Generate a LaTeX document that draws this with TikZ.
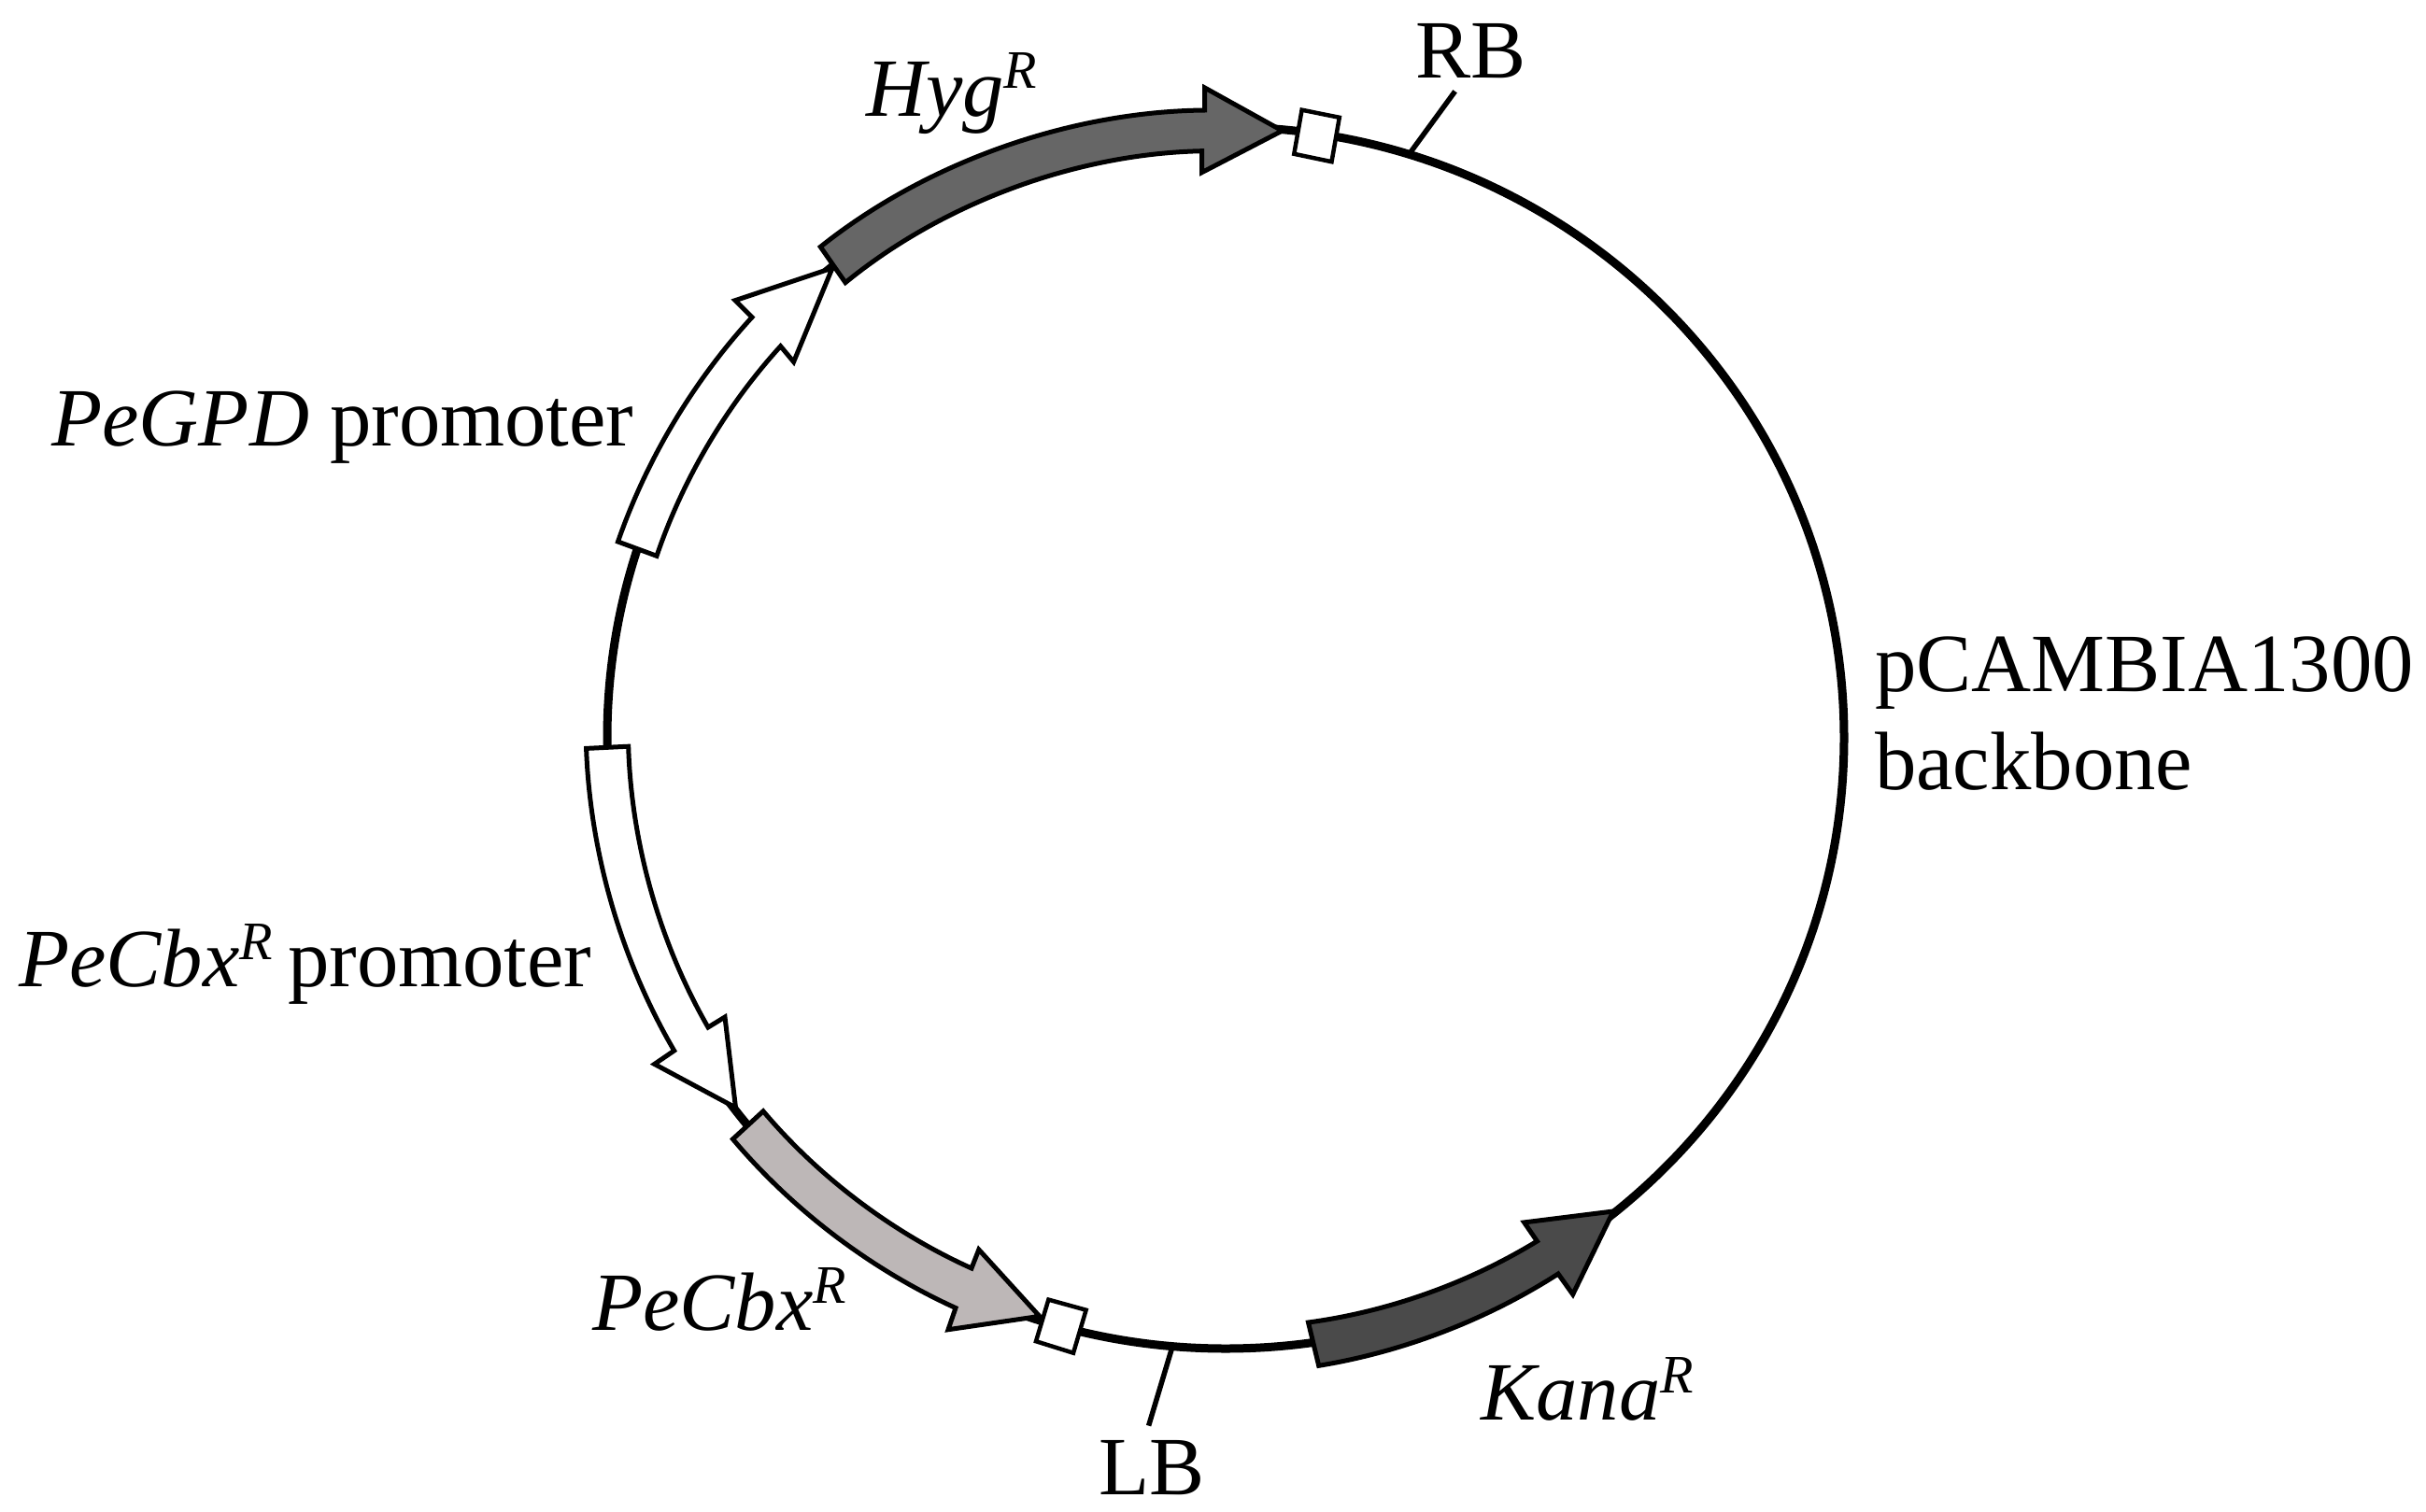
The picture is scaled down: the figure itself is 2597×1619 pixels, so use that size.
\documentclass[tikz,border=0pt]{standalone}
\usepackage{fontspec}
\setmainfont{Liberation Serif}
\definecolor{hygcol}{HTML}{666666}
\definecolor{cbxcol}{HTML}{BDB7B7}
\definecolor{kancol}{HTML}{4A4A4A}
\newcommand{\supR}{\raisebox{29pt}{\fontsize{58}{58}\selectfont\itshape R}}
\tikzset{
  x=1pt,y=-1pt,
  feature/.style={draw=black,line width=5pt,line join=miter,miter limit=6,looseness=.85},
  site/.style={draw=black,fill=white,line width=4.5pt,line join=miter},
  tick/.style={draw=black,line width=5.5pt},
  backbone/.style={draw=black,line width=9pt},
  lab/.style={inner sep=0pt,anchor=base west,font=\fontsize{88.7}{104}\selectfont},
}
\begin{document}
\begin{tikzpicture}
\useasboundingbox (0,0) rectangle (2597,1619);
\coordinate (c) at (1312,790);
\draw[backbone] (c) ellipse[x radius=662,y radius=654];
% ticks
\coordinate (rb0) at (1508.5,165); \coordinate (rb1) at (1557.6,97.8);
\coordinate (lb0) at (1255,1442); \coordinate (lb1) at (1229.6,1526.6);
\draw[tick] (rb0) -- (rb1);
\draw[tick] (lb0) -- (lb1);
% PeGPD promoter
\draw[feature,fill=white] (661.5,580) to[bend left=11.7] (805,339.7) -- (787,321.7) -- (891,287) -- (849.6,387.5) -- (835.6,370.7) to[bend right=11.8] (703,595.3) -- cycle;
% HygR
\draw[feature,fill=hygcol] (878.3,264.3) to[bend left=19] (1289.7,118) -- (1289.7,94) -- (1372.6,140) -- (1286.5,184.7) -- (1286.5,161.7) to[bend right=19] (905,302.6) -- cycle;
% PeCbxR promoter
\draw[feature,fill=white] (627.6,801.4) to[bend right=14.1] (721.7,1125) -- (700.6,1139.4) -- (787.5,1186) -- (776,1089) -- (758,1100) to[bend left=14.1] (672.7,799.2) -- cycle;
% PeCbxR
\draw[feature,fill=cbxcol] (784.5,1219.7) to[bend right=12.7] (1023,1400.5) -- (1015,1423.7) -- (1112.8,1409.4) -- (1047.8,1338) -- (1040,1358) to[bend left=12.8] (817,1189.8) -- cycle;
% KanaR
\draw[feature,fill=kancol] (1400.5,1416) to[bend right=11.9] (1645.4,1329) -- (1631.6,1308.9) -- (1727,1297) -- (1683.7,1386) -- (1668,1364) to[bend left=11.7] (1411.7,1462.3) -- cycle;
% sites
\draw[site] (1393.6,117.7) -- (1433.8,125.8) -- (1425.5,173.2) -- (1385.3,164.8) -- cycle;
\draw[site] (1122.4,1391.6) -- (1162.6,1402.7) -- (1149,1448.7) -- (1109,1436.2) -- cycle;
% labels
\node[lab] (hyg) at (927,124) {\textit{Hyg}\supR};
\node[lab] (rb) at (1515,83) {RB};
\node[lab] (back1) at (2007,740) {pCAMBIA1300};
\node[lab] (back2) at (2007,845) {backbone};
\node[lab] (gpd) at (55,477) {\textit{PeGPD} promoter};
\node[lab] (cbxp) at (20,1056) {\textit{PeCbx}\supR\hspace{-6pt} promoter};
\node[lab] (cbx) at (634,1424) {\textit{PeCbx}\supR};
\node[lab] (kana) at (1585,1520) {\textit{Kana}\supR};
\node[lab] (lb) at (1176,1600) {LB};
\end{tikzpicture}
\end{document}
